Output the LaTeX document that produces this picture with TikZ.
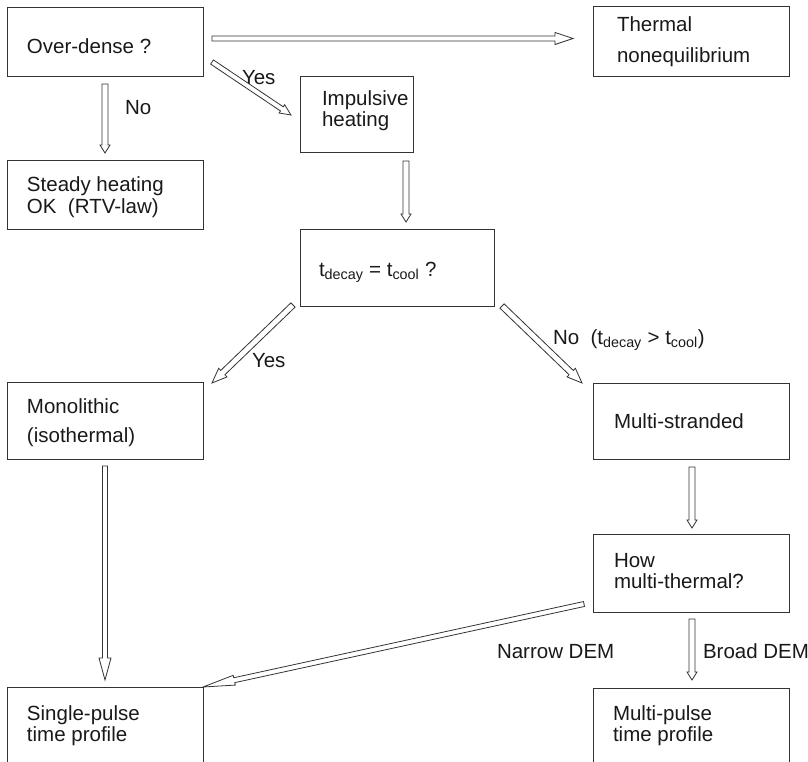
\documentclass[tikz,border=0pt]{standalone}
\usepackage{fontspec}
\setmainfont{Liberation Sans}
\usetikzlibrary{calc}
\newcommand\harrow[5]{%
  \coordinate (hb) at ($(#2)!#5pt!(#1)$);
  \draw[arr] ($(#1)!#3pt!90:(#2)$) -- ($(hb)!#3pt!-90:(#1)$) -- ($(hb)!#4pt!-90:(#1)$) -- (#2)
    -- ($(hb)!#4pt!90:(#1)$) -- ($(hb)!#3pt!90:(#1)$) -- ($(#1)!#3pt!-90:(#2)$) -- cycle;
}
\begin{document}
\begin{tikzpicture}[x=1pt,y=-1pt,
  box/.style={draw=black!80, line width=1pt, anchor=north west, inner sep=0pt, outer sep=0pt},
  txt/.style={anchor=base west, inner sep=0pt, outer sep=0pt, text=black!90, font=\fontsize{20.5}{24}\selectfont},
  arr/.style={draw=black!80, line width=0.8pt, fill=white, line join=miter}]
\useasboundingbox (0,0) rectangle (808,762);
\clip (0,0) rectangle (808,762);
% boxes
\node[box, minimum width=196pt, minimum height=69pt] (over) at (7,8) {};
\node[box, minimum width=196pt, minimum height=68pt] (steady) at (7,161) {};
\node[box, minimum width=113pt, minimum height=76pt] (imp) at (300,77) {};
\node[box, minimum width=196pt, minimum height=70pt] (therm) at (593,7) {};
\node[box, minimum width=194pt, minimum height=77pt] (tdec) at (300,229) {};
\node[box, minimum width=196pt, minimum height=77pt] (mono) at (7,382) {};
\node[box, minimum width=196pt, minimum height=76pt] (multi) at (593,383) {};
\node[box, minimum width=196pt, minimum height=78pt] (how) at (593,534) {};
\node[box, minimum width=196pt, minimum height=82pt] (single) at (7,687) {};
\node[box, minimum width=196pt, minimum height=82pt] (mpulse) at (593,688) {};
% texts
\node[txt] (t1) at (27,54) {Over-dense ?};
\node[txt] (t2) at (125,115) {No};
\node[txt] (t3) at (242,85) {Yes};
\node[txt] (t4a) at (322,106) {Impulsive};
\node[txt] (t4b) at (322,127) {heating};
\node[txt] (t5a) at (617,32) {Thermal};
\node[txt] (t5b) at (617,63) {nonequilibrium};
\node[txt] (t6a) at (27,192) {Steady heating};
\node[txt] (t6b) at (27,213) {OK\ \ (RTV-law)};
\node[txt] (t7) at (319,276) {t\textsubscript{decay} = t\textsubscript{cool} ?};
\node[txt] (t8) at (252,367) {Yes};
\node[txt] (t9) at (553,344) {No\ \ (t\textsubscript{decay} > t\textsubscript{cool})};
\node[txt] (t10a) at (27,413) {Monolithic};
\node[txt] (t10b) at (27,442) {(isothermal)};
\node[txt] (t11) at (614,428) {Multi-stranded};
\node[txt] (t12a) at (614,567) {How};
\node[txt] (t12b) at (614,588) {multi-thermal?};
\node[txt] (t13) at (497,658) {Narrow DEM};
\node[txt] (t14) at (703,658) {Broad DEM};
\node[txt] (t15a) at (27,720) {Single-pulse};
\node[txt] (t15b) at (27,741) {time profile};
\node[txt] (t16a) at (613,720) {Multi-pulse};
\node[txt] (t16b) at (613,741) {time profile};
% arrow end points
\coordinate (a1s) at (212,38.5); \coordinate (a1e) at (573,38.5);
\coordinate (a2s) at (105,84);   \coordinate (a2e) at (105,153);
\coordinate (a3s) at (212,62);   \coordinate (a3e) at (291,115);
\coordinate (a4s) at (406,161);  \coordinate (a4e) at (406,222);
\coordinate (a5s) at (293,305);  \coordinate (a5e) at (212,383);
\coordinate (a6s) at (502,306);  \coordinate (a6e) at (582,383);
\coordinate (a7s) at (105,466);  \coordinate (a7e) at (105,680);
\coordinate (a8s) at (692,467);  \coordinate (a8e) at (692,528);
\coordinate (a9s) at (584,604);
\coordinate (a10s) at (692,619); \coordinate (a10e) at (692,680);
% arrows
\harrow{a1s}{a1e}{2.5}{6}{18}
\harrow{a2s}{a2e}{3}{5}{8}
\harrow{a3s}{a3e}{2.5}{5}{11}
\harrow{a4s}{a4e}{3}{5}{8}
\harrow{a5s}{a5e}{3}{6}{15}
\harrow{a6s}{a6e}{3}{6}{15}
\harrow{a7s}{a7e}{2.5}{6}{22}
\harrow{a8s}{a8e}{3}{5}{8}
\harrow{a9s}{single.north east}{2.5}{5}{32}
\harrow{a10s}{a10e}{3}{5}{8}
\end{tikzpicture}
\end{document}
